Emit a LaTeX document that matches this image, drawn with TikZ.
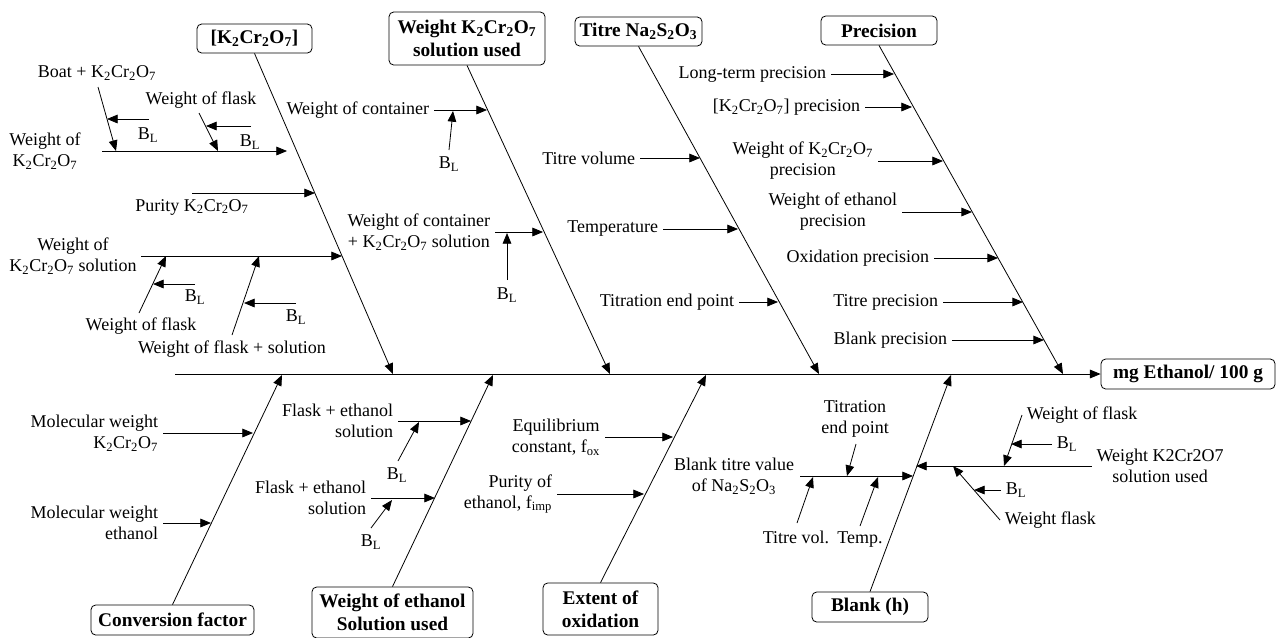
\documentclass[tikz,border=0pt]{standalone}
\usepackage{fontspec}
\setmainfont{Liberation Serif}
\usetikzlibrary{arrows.meta}

\newcommand{\kcr}{K\textsubscript{2}Cr\textsubscript{2}O\textsubscript{7}}
\newcommand{\nso}{Na\textsubscript{2}S\textsubscript{2}O\textsubscript{3}}
\newcommand{\bL}{B\textsubscript{L}}

\tikzset{
  cause/.style={draw, rounded corners=3.5pt, align=center, inner sep=2pt,
    font=\fontsize{14.5}{17}\selectfont\bfseries},
}

\begin{document}
\begin{tikzpicture}[x=0.75pt, y=-0.75pt, line width=0.6pt,
    >={Triangle[length=8pt,width=6.5pt]},
    font=\fontsize{13.5}{15.75}\selectfont]

    \useasboundingbox (0,0) rectangle (1276,637);

    \coordinate (tail) at (175,374);
    \node[cause, minimum width=130.5pt, minimum height=22.5pt] (mg) at (1188,374) {mg Ethanol/ 100 g};
    \coordinate (s1) at (393,374);
    \coordinate (s2) at (610,374);
    \coordinate (s3) at (819,374);
    \coordinate (s4) at (1063,374);
    \coordinate (s5) at (282,375);
    \coordinate (s6) at (493,375);
    \coordinate (s7) at (706,375);
    \coordinate (s8) at (951,375);

    \node[cause, minimum width=86.25pt, minimum height=21.75pt] (k2) at (254.5,38.5) {[\kcr]};
    \node[align=center] (wk) at (45,151) {Weight of\\\kcr};
    \coordinate (wk-a) at (102,151);
    \coordinate (wk-b) at (287,151);
    \node (boat) at (97,73) {Boat + \kcr};
    \coordinate (boat-a) at (98,87);
    \coordinate (boat-b) at (116,151);
    \node (bl1) at (148,135) {\bL};
    \coordinate (bl1-a) at (149,119);
    \coordinate (bl1-b) at (107,119);
    \node (wf1) at (201,100) {Weight of flask};
    \coordinate (wf1-a) at (199,113);
    \coordinate (wf1-b) at (218,151);
    \node (bl2) at (250,142) {\bL};
    \coordinate (bl2-a) at (251,126);
    \coordinate (bl2-b) at (206,126);
    \node (pu) at (192,207) {Purity \kcr};
    \coordinate (pu-a) at (192,193);
    \coordinate (pu-b) at (315,193);
    \node[align=center] (ws) at (73,256.5) {Weight of\\\kcr{} solution};
    \coordinate (ws-a) at (141,256);
    \coordinate (ws-b) at (342,256);
    \node (wf2) at (141,326) {Weight of flask};
    \coordinate (wf2-a) at (139,313);
    \coordinate (wf2-b) at (166,256);
    \node (bl3) at (195,297) {\bL};
    \coordinate (bl3-a) at (195,284);
    \coordinate (bl3-b) at (153,284);
    \node (wfs) at (232,349) {Weight of flask + solution};
    \coordinate (wfs-a) at (232,335);
    \coordinate (wfs-b) at (259,256);
    \node (bl4) at (296,317) {\bL};
    \coordinate (bl4-a) at (296,303);
    \coordinate (bl4-b) at (244,303);

    \node[cause, minimum width=117pt, minimum height=39.75pt] (wsu) at (467,38.5) {Weight \kcr\\solution used};
    \node[anchor=east] (wc) at (434,110) {Weight of container};
    \coordinate (wc-b) at (487,110);
    \node (bl5) at (449,164) {\bL};
    \coordinate (bl5-a) at (449,150);
    \coordinate (bl5-b) at (453,111);
    \node[anchor=east, align=center] (wck) at (495,232) {Weight of container\\+ \kcr{} solution};
    \coordinate (wck-b) at (543,232);
    \node (bl6) at (507,295) {\bL};
    \coordinate (bl6-a) at (507,280);
    \coordinate (bl6-b) at (507,233);

    \node[cause, minimum width=95.25pt, minimum height=21.75pt] (ti) at (638.5,31.5) {Titre \nso};
    \node[anchor=east] (tv) at (640,158) {Titre volume};
    \coordinate (tv-b) at (700,158);
    \node[anchor=east] (tmp) at (663,229) {Temperature};
    \coordinate (tmp-b) at (738,229);
    \node[anchor=east] (tep) at (739,302) {Titration end point};
    \coordinate (tep-b) at (778,302);

    \node[cause, minimum width=87pt, minimum height=21.75pt] (pr) at (879,30.5) {Precision};
    \node[anchor=east] (ltp) at (831,74) {Long-term precision};
    \coordinate (ltp-b) at (894,74);
    \node[anchor=east] (kp) at (865,107) {[\kcr] precision};
    \coordinate (kp-b) at (912,107);
    \node[anchor=east, align=center] (wkp) at (878,161) {Weight of \kcr\\precision};
    \coordinate (wkp-b) at (943,161);
    \node[anchor=east, align=center] (wep) at (902,212) {Weight of ethanol\\precision};
    \coordinate (wep-b) at (972,212);
    \node[anchor=east] (oxp) at (934,258) {Oxidation precision};
    \coordinate (oxp-b) at (998,258);
    \node[anchor=east] (trp) at (943,302) {Titre precision};
    \coordinate (trp-b) at (1023,302);
    \node[anchor=east] (bkp) at (952,340) {Blank precision};
    \coordinate (bkp-b) at (1044,340);

    \node[cause, minimum width=122.25pt, minimum height=22.5pt] (cf) at (172.5,620) {Conversion factor};
    \node[anchor=east, align=right] (mwk) at (163,433) {Molecular weight\\\kcr};
    \coordinate (mwk-b) at (253,433);
    \node[anchor=east, align=right] (mwe) at (163,523) {Molecular weight\\ethanol};
    \coordinate (mwe-b) at (211,523);

    \node[cause, minimum width=120.75pt, minimum height=38.25pt] (we) at (392.5,612.5) {Weight of ethanol\\Solution used};
    \node[anchor=east, align=right] (fe1) at (398,421) {Flask + ethanol\\solution};
    \coordinate (fe1-b) at (471,421);
    \node (bl7) at (397,475) {\bL};
    \coordinate (bl7-a) at (398,461);
    \coordinate (bl7-b) at (419,422);
    \node[anchor=east, align=right] (fe2) at (371,498) {Flask + ethanol\\solution};
    \coordinate (fe2-b) at (435,498);
    \node (bl8) at (371,542) {\bL};
    \coordinate (bl8-a) at (371,528);
    \coordinate (bl8-b) at (392,500);

    \node[cause, minimum width=86.25pt, minimum height=39pt] (ex) at (600.5,609) {Extent of\\oxidation};
    \node[anchor=east, align=center] (eq) at (605,437) {Equilibrium\\constant, f\textsubscript{ox}};
    \coordinate (eq-b) at (673,437);
    \node[anchor=east, align=right] (pe) at (557,494) {Purity of\\ethanol, f\textsubscript{imp}};
    \coordinate (pe-b) at (644,494);

    \node[cause, minimum width=87pt, minimum height=22.5pt] (bk) at (870,607) {Blank (h)};
    \node[align=center] (btv) at (734,476.5) {Blank titre value\\of \nso};
    \coordinate (btv-a) at (800,476);
    \coordinate (btv-b) at (913,476);
    \node[align=center] (tep2) at (855,418.5) {Titration\\end point};
    \coordinate (tep2-a) at (856,444);
    \coordinate (tep2-b) at (847,476);
    \node (tvol) at (796,537) {Titre vol.};
    \coordinate (tvol-a) at (797,523);
    \coordinate (tvol-b) at (813,477);
    \node (temp) at (860,540) {Temp.};
    \coordinate (temp-a) at (860,526);
    \coordinate (temp-b) at (878,477);
    \node[align=center] (wkb) at (1160,466) {Weight K2Cr2O7\\solution used};
    \coordinate (wkb-b) at (916,466);
    \node[anchor=west] (wof) at (1022,415) {Weight of flask};
    \coordinate (wof-b) at (1004,466);
    \node[anchor=west] (bl9) at (1052,444) {\bL};
    \coordinate (bl9-b) at (1011,444);
    \node[anchor=west] (wfk) at (1000,520) {Weight flask};
    \coordinate (wfk-b) at (953,466);
    \node[anchor=west] (bl10) at (1001,490) {\bL};
    \coordinate (bl10-b) at (974,490);

    \path [->] (tail) edge (mg);

    \path [->] (k2.south) edge (s1);
    \path [->] (wk-a) edge (wk-b);
    \path [->] (boat-a) edge (boat-b);
    \path [->] (bl1-a) edge (bl1-b);
    \path [->] (wf1-a) edge (wf1-b);
    \path [->] (bl2-a) edge (bl2-b);
    \path [->] (pu-a) edge (pu-b);
    \path [->] (ws-a) edge (ws-b);
    \path [->] (wf2-a) edge (wf2-b);
    \path [->] (bl3-a) edge (bl3-b);
    \path [->] (wfs-a) edge (wfs-b);
    \path [->] (bl4-a) edge (bl4-b);

    \path [->] (wsu.south) edge (s2);
    \path [->] (wc) edge (wc-b);
    \path [->] (bl5-a) edge (bl5-b);
    \path [->] (wck) edge (wck-b);
    \path [->] (bl6-a) edge (bl6-b);

    \path [->] (ti.south) edge (s3);
    \path [->] (tv) edge (tv-b);
    \path [->] (tmp) edge (tmp-b);
    \path [->] (tep) edge (tep-b);

    \path [->] (pr.south) edge (s4);
    \path [->] (ltp) edge (ltp-b);
    \path [->] (kp) edge (kp-b);
    \path [->] (wkp) edge (wkp-b);
    \path [->] (wep) edge (wep-b);
    \path [->] (oxp) edge (oxp-b);
    \path [->] (trp) edge (trp-b);
    \path [->] (bkp) edge (bkp-b);

    \path [->] (cf.north) edge (s5);
    \path [->] (mwk) edge (mwk-b);
    \path [->] (mwe) edge (mwe-b);

    \path [->] (we.north) edge (s6);
    \path [->] (fe1) edge (fe1-b);
    \path [->] (bl7-a) edge (bl7-b);
    \path [->] (fe2) edge (fe2-b);
    \path [->] (bl8-a) edge (bl8-b);

    \path [->] (ex.north) edge (s7);
    \path [->] (eq) edge (eq-b);
    \path [->] (pe) edge (pe-b);

    \path [->] (bk.north) edge (s8);
    \path [->] (btv-a) edge (btv-b);
    \path [->] (tep2-a) edge (tep2-b);
    \path [->] (tvol-a) edge (tvol-b);
    \path [->] (temp-a) edge (temp-b);
    \path [->] (wkb) edge (wkb-b);
    \path [->] (wof.west) edge (wof-b);
    \path [->] (bl9) edge (bl9-b);
    \path [->] (wfk.west) edge (wfk-b);
    \path [->] (bl10) edge (bl10-b);

  \end{tikzpicture}
\end{document}
